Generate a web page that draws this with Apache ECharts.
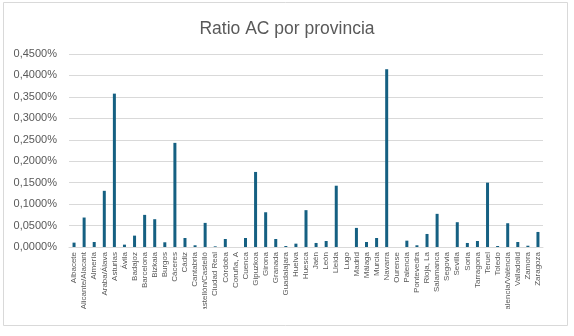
<!DOCTYPE html>
<html>
<head>
<meta charset="utf-8">
<style>
  html, body { margin: 0; padding: 0; background: #ffffff; }
  #chart { width: 574px; height: 336px; }
</style>
<script src="https://cdn.jsdelivr.net/npm/echarts@6/dist/echarts.min.js"></script>
</head>
<body>
<div id="chart"></div>
<script>
// Provinces along the category axis
const provincias = [
  'Albacete', 'Alicante/Alacant', 'Almería', 'Araba/Álava', 'Asturias', 'Ávila',
  'Badajoz', 'Barcelona', 'Bizkaia', 'Burgos', 'Cáceres', 'Cádiz', 'Cantabria',
  'Castellón/Castelló', 'Ciudad Real', 'Córdoba', 'Coruña, A', 'Cuenca', 'Gipuzkoa',
  'Girona', 'Granada', 'Guadalajara', 'Huelva', 'Huesca', 'Jaén', 'León', 'Lleida',
  'Lugo', 'Madrid', 'Málaga', 'Murcia', 'Navarra', 'Ourense', 'Palencia', 'Pontevedra',
  'Rioja, La', 'Salamanca', 'Segovia', 'Sevilla', 'Soria', 'Tarragona', 'Teruel',
  'Toledo', 'Valencia/València', 'Valladolid', 'Zamora', 'Zaragoza'
];

// AC ratio per province, in percent
const ratioAC = [
  0.0102, 0.0687, 0.0117, 0.1310, 0.3576, 0.0055,
  0.0265, 0.0749, 0.0648, 0.0110, 0.2428, 0.0210, 0.0040,
  0.0562, 0.0015, 0.0187, 0.0000, 0.0210, 0.1750,
  0.0810, 0.0187, 0.0023, 0.0078, 0.0859, 0.0094, 0.0140, 0.1429,
  0.0000, 0.0445, 0.0117, 0.0210, 0.4145, 0.0000, 0.0148, 0.0040,
  0.0304, 0.0773, 0.0000, 0.0578, 0.0094, 0.0140, 0.1500,
  0.0023, 0.0554, 0.0117, 0.0030, 0.0351
];

// Value axis range
const yMin = 0;
const yMax = 0.45;
const yStep = 0.05;

const gray = '#595959';
const chart = echarts.init(document.getElementById('chart'), null, { renderer: 'canvas' });

chart.setOption({
  animation: false,
  backgroundColor: '#ffffff',
  title: {
    text: 'Ratio AC por provincia',
    left: 'center',
    top: 15,
    textStyle: { color: gray, fontSize: 17.5, fontWeight: 'normal', fontFamily: 'Liberation Sans, Arial, sans-serif' }
  },
  grid: { left: 69, right: 31, top: 54, bottom: 89, containLabel: false },
  xAxis: {
    type: 'category',
    data: provincias,
    axisTick: { show: false },
    axisLine: { show: true, lineStyle: { color: '#d9d9d9', width: 1 } },
    axisLabel: {
      interval: 0,
      rotate: 90,
      margin: 5,
      color: gray,
      fontSize: 8,
      fontFamily: 'Liberation Sans, Arial, sans-serif'
    }
  },
  yAxis: {
    type: 'value',
    min: yMin,
    max: yMax,
    interval: yStep,
    axisLine: { show: false },
    axisTick: { show: false },
    splitLine: { lineStyle: { color: '#d9d9d9', width: 1 } },
    axisLabel: {
      margin: 12,
      color: gray,
      fontSize: 11,
      fontFamily: 'Liberation Sans, Arial, sans-serif',
      formatter: v => v.toFixed(4).replace('.', ',') + '%'
    }
  },
  series: [{
    type: 'bar',
    data: ratioAC,
    barWidth: 3,
    itemStyle: { color: '#156082' }
  }],
  graphic: [
    // mask below the label area so long names are cut off
    { type: 'rect', z: 100, shape: { x: 4, y: 309, width: 563, height: 16 }, style: { fill: '#ffffff' } },
    // chart area border
    { type: 'rect', z: 101, shape: { x: 3.5, y: 2.5, width: 564, height: 323 }, style: { fill: 'none', stroke: '#d9d9d9', lineWidth: 1 } }
  ]
});
</script>
</body>
</html>
